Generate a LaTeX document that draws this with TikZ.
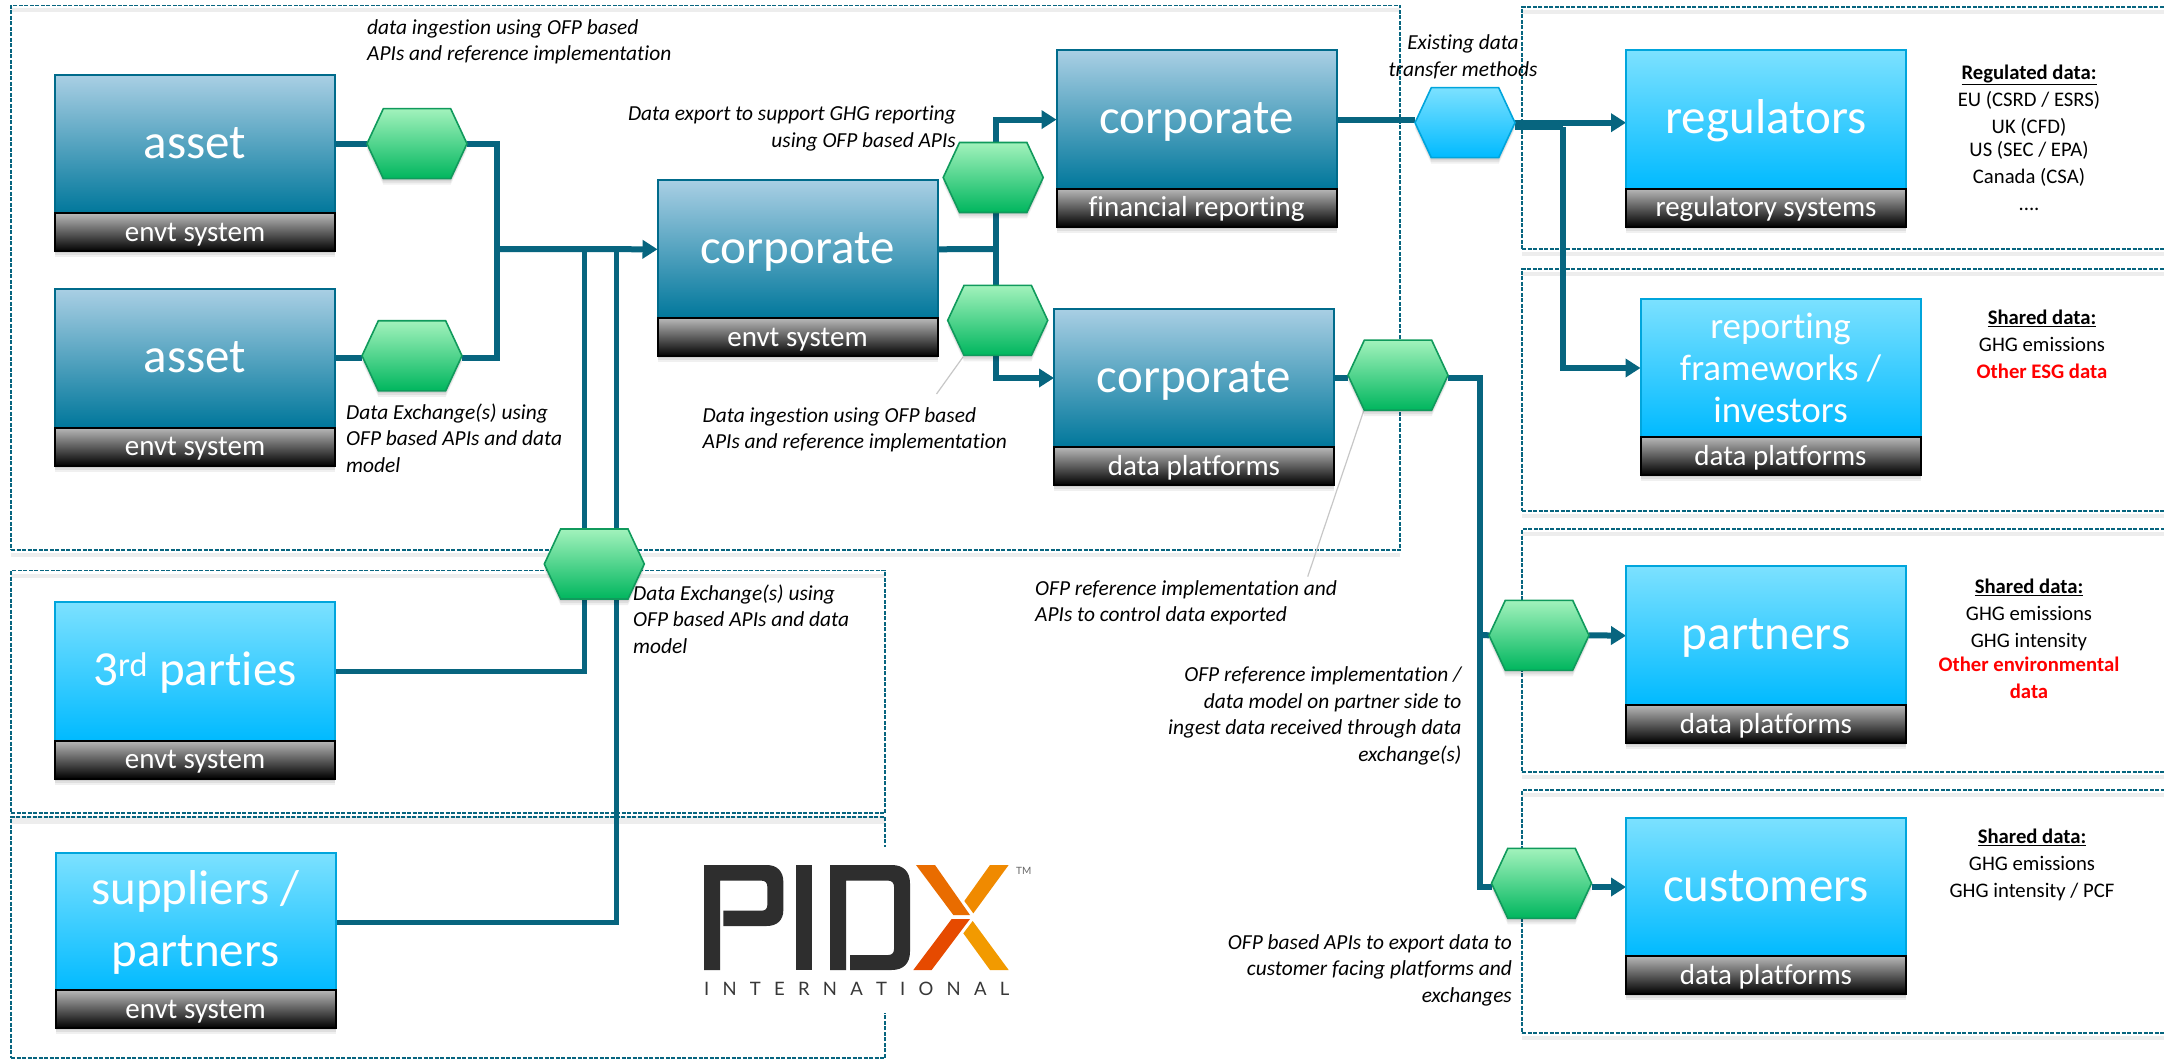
\documentclass[tikz,border=0pt]{standalone}
\usepackage{fontspec}
\setmainfont[Ligatures=NoCommon]{Carlito}
\newfontfamily\logofont{Lato}
\usetikzlibrary{arrows.meta,shadows,shapes.symbols,calc}
\pgfdeclarelayer{bg}
\pgfsetlayers{bg,main}
\definecolor{flowteal}{HTML}{07657F}
\definecolor{dkTop}{HTML}{A9CFE4}
\definecolor{dkBot}{HTML}{00779B}
\definecolor{cyTop}{HTML}{7CE1FF}
\definecolor{cyBot}{HTML}{00BAFF}
\definecolor{cyEdge}{HTML}{00A5DC}
\definecolor{grTop}{HTML}{A2F2BC}
\definecolor{grBot}{HTML}{00B65E}
\definecolor{grEdge}{HTML}{109A5C}
\definecolor{logoDark}{HTML}{2E2E2E}
\definecolor{xred}{HTML}{E64A00}
\definecolor{xamb}{HTML}{F29A00}
\definecolor{xora}{HTML}{E96C00}
\definecolor{xorb}{HTML}{F08A00}
\tikzset{
  softshadow/.style={
    general shadow={fill=black,opacity=.07,shadow xshift=0pt,shadow yshift=-2pt},
    general shadow={fill=black,opacity=.07,shadow xshift=0pt,shadow yshift=-4pt},
    general shadow={fill=black,opacity=.06,shadow xshift=0pt,shadow yshift=-6pt}},
  mainbox/.style={rectangle,inner sep=0pt,outer sep=0pt,minimum width=280pt,minimum height=138.5pt,
    line width=2pt,text=white,align=center,softshadow},
  bigtext/.style={font=\fontsize{49}{62}\selectfont,text height=35pt,text depth=7pt},
  darkbox/.style={mainbox,bigtext,draw=dkBot!90!black,top color=dkTop,bottom color=dkBot},
  cyanbox/.style={mainbox,bigtext,draw=cyEdge,top color=cyTop,bottom color=cyBot},
  cyanmulti/.style={mainbox,draw=cyEdge,top color=cyTop,bottom color=cyBot},
  sublabel/.style={rectangle,inner sep=0pt,outer sep=0pt,minimum width=280pt,minimum height=38pt,
    line width=2pt,draw=black,top color=black!28,bottom color=black,text=white,
    font=\fontsize{29}{34}\selectfont,text height=20pt,text depth=2pt,softshadow},
  hexbase/.style={shape=signal,signal to=east and west,signal pointer angle=130,inner sep=0pt,outer sep=0pt,
    minimum width=100pt,minimum height=70pt,line width=1.6pt,softshadow},
  greenhex/.style={hexbase,draw=grEdge,top color=grTop,bottom color=grBot},
  bluehex/.style={hexbase,draw=cyEdge,top color=cyTop,bottom color=cyBot},
  panel/.style={rectangle,inner sep=0pt,outer sep=0pt,draw=flowteal,line width=1.8pt,dash pattern=on 4pt off 1.5pt},
  panelglow/.style={draw=black!7,line width=4pt},
  flow/.style={draw=flowteal,line width=6pt},
  flowthin/.style={draw=flowteal,line width=5pt},
  arrowed/.style={-{Triangle[length=15pt,width=18pt]}},
  leader/.style={draw=black!22,line width=1.2pt},
  note/.style={inner sep=0pt,font=\fontsize{21.4}{26.4}\selectfont\itshape,text=black},
  datablock/.style={inner sep=0pt,align=center,font=\fontsize{20.7}{27}\selectfont,text=black},
}
\newcommand{\hd}[1]{\textbf{\underline{#1}}}
\newcommand{\rd}[1]{\textcolor{red}{\textbf{#1}}}
\begin{document}
\begin{tikzpicture}[x=1pt,y=-1pt]
\useasboundingbox (0,0) rectangle (2164,1059);
\begin{pgfonlayer}{bg}
\fill[white] (0,0) rectangle (2164,1059);
% panel shadows
\foreach \xa/\ya/\xb/\yb in {11/5.5/1400/550,11/570.5/885/813,11/817/885/1058,1522/7/2170/249,1522/269/2170/511,1522/529/2170/772,1522/790/2170/1033}{
  \draw[panelglow] (\xa,\yb+5) -- (\xb,\yb+5);
  \draw[panelglow] (\xa,\ya+5) -- (\xb,\ya+5);
}
% panels
\node[panel,minimum width=1389pt,minimum height=544.5pt] (pA) at (705.5,277.75) {};
\node[panel,minimum width=874pt,minimum height=242.5pt] (pB) at (448,691.75) {};
\node[panel,minimum width=874pt,minimum height=241pt] (pC) at (448,937.5) {};
\node[panel,minimum width=648pt,minimum height=242pt] (pR1) at (1846,128) {};
\node[panel,minimum width=648pt,minimum height=242pt] (pR2) at (1846,390) {};
\node[panel,minimum width=648pt,minimum height=243pt] (pR3) at (1846,650.5) {};
\node[panel,minimum width=648pt,minimum height=243pt] (pR4) at (1846,911.5) {};
% logo backdrop
\fill[white] (700,847) rectangle (1040,1013);
\end{pgfonlayer}
% junctions
\coordinate (jm) at (497,249);
\coordinate (jv1) at (584,249);
\coordinate (jv2) at (616,249);
\coordinate (jt) at (996,249);
\coordinate (brk) at (1563,127);
\coordinate (jr) at (1480,635);
\coordinate (l1a) at (963,357);
\coordinate (l1b) at (936.5,394);
\coordinate (l2a) at (1363.6,411);
\coordinate (l2b) at (1307.7,576.6);
% boxes
\node[darkbox] (a1) at (195,144.3) {asset};
\node[sublabel] (a1s) at (195,232.5) {envt system};
\node[darkbox] (a2) at (195,358.3) {asset};
\node[sublabel] (a2s) at (195,446.8) {envt system};
\node[darkbox] (ce) at (797.5,249.3) {corporate};
\node[sublabel] (ces) at (797.5,337.3) {envt system};
\node[darkbox] (cf) at (1196.5,119.6) {corporate};
\node[sublabel] (cfs) at (1196.5,207.8) {financial reporting};
\node[darkbox] (cd) at (1194,378) {corporate};
\node[sublabel] (cds) at (1194,466.2) {data platforms};
\node[cyanbox] (reg) at (1766,119.6) {regulators};
\node[sublabel] (regs) at (1766,207.8) {regulatory systems};
\node[cyanmulti,font=\fontsize{37}{42}\selectfont] (rep) at (1780.5,368) {reporting\\frameworks /\\investors};
\node[sublabel] (reps) at (1780.5,456) {data platforms};
\node[cyanbox] (pa) at (1766,635.7) {partners};
\node[sublabel] (pas) at (1766,724) {data platforms};
\node[cyanbox] (cu) at (1766,887) {customers};
\node[sublabel] (cus) at (1766,975) {data platforms};
\node[cyanbox] (tp) at (195,671.3) {3\textsuperscript{rd} parties};
\node[sublabel] (tps) at (195,759.8) {envt system};
\node[cyanmulti,font=\fontsize{49}{62}\selectfont] (sp) at (195.5,922.2) {\raisebox{-4pt}{suppliers /}\\\raisebox{-4pt}{partners}};
\node[sublabel] (sps) at (195.5,1009.2) {envt system};
% exchanges
\node[greenhex] (h1) at (417,143.7) {};
\node[greenhex] (h2) at (412,355.8) {};
\node[greenhex] (h3) at (993.2,177.5) {};
\node[greenhex] (h4) at (997.7,320.4) {};
\node[bluehex] (h5) at (1465,122.7) {};
\node[greenhex] (h6) at (1398,375.2) {};
\node[greenhex] (h7) at (594.3,564) {};
\node[greenhex] (h8) at (1539,635.3) {};
\node[greenhex] (h9) at (1541.5,883.3) {};
% connectors
\begin{pgfonlayer}{bg}
\draw[flow] (a1.east) -- (a1.east -| h1.west);
\draw[flow] (a2.east) -- (a2.east -| h2.west);
\draw[flow] (a1.east -| h1.east) -| (jm);
\draw[flow] (a2.east -| h2.east) -| (jm);
\draw[flow,arrowed] (jm) -- (ce.west);
\draw[flowthin] (jv1) |- (tp.east);
\draw[flowthin] (jv2) |- (sp.east);
\draw[flow] (ce.east) -- (jt);
\draw[flow,arrowed] (jt) |- (cf.west);
\draw[flow,arrowed] (jt) |- (cd.west);
\draw[flow] (cf.east) -- (cf.east -| h5.west);
\draw[flow,arrowed] (h5.east) -- (h5.east -| reg.west);
\draw[flow] (brk -| h5.east) -- (brk);
\draw[flow,arrowed] (brk) |- (rep.west);
\draw[flow] (cd.east) -- (cd.east -| h6.west);
\draw[flow] (cd.east -| h6.east) -| (jr);
\draw[flow] (jr) |- (cu.west -| h9.west);
\draw[flow] (jr) -- (h8.west);
\draw[flow,arrowed] (h8.east) -- (pa.west);
\draw[flow,arrowed] (cu.west -| h9.east) -- (cu.west);
\draw[leader] (l1a) -- (l1b);
\draw[leader] (l2a) -- (l2b);
\end{pgfonlayer}
% notes
\node[note,anchor=west,align=left] (n1) at (367,42) {data ingestion using OFP based\\APIs and reference implementation};
\node[note,anchor=east,align=right] (n2) at (956,128.5) {Data export to support GHG reporting\\using OFP based APIs};
\node[note,anchor=west,align=left] (n3) at (346,438) {Data Exchange(s) using\\OFP based APIs and data\\model};
\node[note,anchor=west,align=left] (n4) at (702.5,430) {Data ingestion using OFP based\\APIs and reference implementation};
\node[note,align=center] (n5) at (1463,57) {Existing data\\transfer methods};
\node[note,anchor=west,align=left] (n6) at (633,619) {Data Exchange(s) using\\OFP based APIs and data\\model};
\node[note,anchor=west,align=left] (n7) at (1035,603) {OFP reference implementation and\\APIs to control data exported};
\node[note,anchor=east,align=right] (n8) at (1461.6,716) {OFP reference implementation /\\data model on partner side to\\ingest data received through data\\exchange(s)};
\node[note,anchor=east,align=right] (n9) at (1512,970) {OFP based APIs to export data to\\customer facing platforms and\\exchanges};
% data lists
\node[datablock] (d1) at (2029,138) {\hd{Regulated data:}\\EU (CSRD / ESRS)\\UK (CFD)\\[-4pt]US (SEC / EPA)\\Canada (CSA)\\....};
\node[datablock] (d2) at (2042,344) {\hd{Shared data:}\\GHG emissions\\\rd{Other ESG data}};
\node[datablock] (d3) at (2029,639) {\hd{Shared data:}\\GHG emissions\\GHG intensity\\[-3pt]\rd{Other environmental}\\\rd{data}};
\node[datablock] (d4) at (2032,865) {\hd{Shared data:}\\GHG emissions\\GHG intensity / PCF};
% logo
\begin{scope}[shift={(660,700)},x=.33333pt,y=-.33333pt]
\fill[logoDark] (132,495) -- (320,495) .. controls (352,495) and (370,515) .. (370,545) -- (370,630) .. controls (370,660) and (352,678) .. (320,678) -- (190,678) -- (190,632) -- (305,632) .. controls (316,632) and (322,626) .. (322,615) -- (322,560) .. controls (322,549) and (316,542) .. (305,542) -- (180,542) -- (180,810) -- (132,810) -- cycle;
\fill[logoDark] (408,495) rectangle (456,810);
\fill[logoDark] (510,495) -- (695,495) .. controls (730,495) and (750,515) .. (750,550) -- (750,755) .. controls (750,790) and (730,810) .. (695,810) -- (570,810) -- (570,765) -- (685,765) .. controls (696,765) and (702,758) .. (702,748) -- (702,560) .. controls (702,549) and (696,542) .. (685,542) -- (558,542) -- (558,810) -- (510,810) -- cycle;
\fill[xora] (768,495) -- (825,495) -- (930,645) -- (880,645) -- cycle;
\fill[xorb] (990,495) -- (1046,495) -- (940,640) -- (913,603) -- cycle;
\fill[xred] (875,657) -- (930,657) -- (815,810) -- (760,810) -- cycle;
\fill[xamb] (938,663) -- (1046,810) -- (990,810) -- (910,700) -- cycle;
\node[inner sep=0pt,anchor=base west,text=black!78,font=\logofont\fontsize{18.5}{20}\selectfont] (lgi) at (132,885) {\makebox[305pt][s]{I\hfill N\hfill T\hfill E\hfill R\hfill N\hfill A\hfill T\hfill I\hfill O\hfill N\hfill A\hfill L}};
\node[inner sep=0pt,anchor=base west,text=black!60,font=\logofont\fontsize{10}{12}\selectfont] (lgt) at (1068,522) {TM};
\end{scope}
\end{tikzpicture}
\end{document}
